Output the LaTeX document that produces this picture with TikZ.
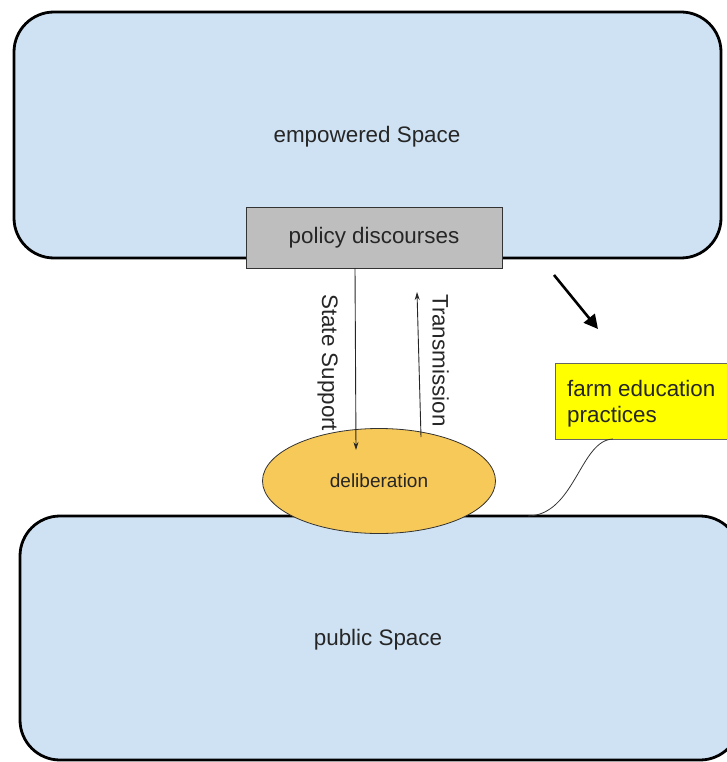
\documentclass[tikz,border=0pt]{standalone}
\usepackage{fontspec}
\setmainfont{Liberation Sans}
\usetikzlibrary{shapes.geometric,arrows.meta}
\definecolor{spaceblue}{RGB}{207,226,243}
\definecolor{policygray}{RGB}{190,190,190}
\definecolor{delibfill}{RGB}{247,201,88}
\definecolor{noteyellow}{RGB}{255,255,0}
\begin{document}
\begin{tikzpicture}[x=1pt,y=-1pt,
  space/.style={draw=black,line width=2.8pt,fill=spaceblue,rounded corners=40pt},
  label/.style={font=\fontsize{22.4}{26}\selectfont,text=black!85},
  thinarrow/.style={draw=black!85,line width=0.9pt,-{Stealth[length=8pt,width=5pt]}},
]
\useasboundingbox (0,0) rectangle (727,762);
% the two spaces
\draw[space] (14,12) rectangle (721,258);
\node[label] (emp) at (367,137) {empowered Space};
\draw[space] (20,516) rectangle (740,760);
\node[label] (pub) at (378,640) {public Space};
% policy box
\node[draw=black!80,line width=0.8pt,fill=policygray,minimum width=256pt,minimum height=61pt,inner sep=0pt,label] (policy) at (374,237.5) {policy discourses};
% deliberation
\node[ellipse,draw=black!80,line width=0.8pt,fill=delibfill,minimum width=233pt,minimum height=105pt,inner sep=0pt,font=\fontsize{19}{22}\selectfont,text=black!85] (delib) at (379,481) {deliberation};
% connectors
\coordinate (ssTop) at (355,268);
\coordinate (ssEnd) at (356,450);
\draw[thinarrow] (ssTop) -- (ssEnd);
\node[label,rotate=-90,anchor=north west,inner sep=1pt] (ss) at (339,293) {State Support};
\coordinate (trStart) at (421,437);
\coordinate (trEnd) at (417,292);
\draw[thinarrow] (trStart) -- (trEnd);
\node[label,rotate=-90,anchor=north west,inner sep=1pt] (tr) at (450,293) {Transmission};
% thick pointer
\coordinate (pA) at (554,275);
\coordinate (pB) at (598,329);
\draw[line width=2.6pt,-{Triangle[length=14pt,width=14pt]}] (pA) -- (pB);
% yellow note
\node[draw=black!60,line width=0.6pt,fill=noteyellow,minimum width=180pt,minimum height=76pt,anchor=north west,inner sep=0pt] (note) at (555,363) {};
\node[label,anchor=north west,align=left,inner sep=0pt] (notetext) at (567,380) {farm education\\practices};
\coordinate (cStart) at (613,439);
\coordinate (cEnd) at (528,516);
\draw[line width=0.8pt,black!80] (cStart) .. controls (580,440) and (575,515) .. (cEnd);
\end{tikzpicture}
\end{document}
